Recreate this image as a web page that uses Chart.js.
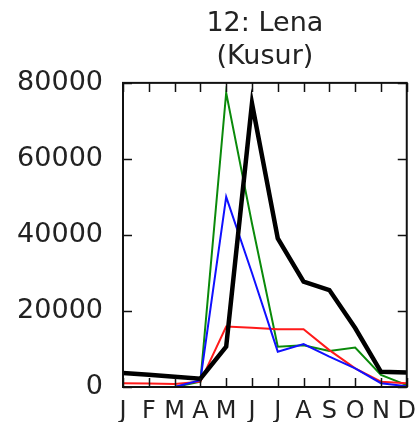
<!DOCTYPE html>
<html>
<head>
<meta charset="utf-8">
<script src="https://cdn.jsdelivr.net/npm/chart.js@4/dist/chart.umd.min.js"></script>
<style>
  html, body { margin: 0; padding: 0; background: #fff; }
  canvas { display: block; }
</style>
</head>
<body>
<canvas id="chart" width="418" height="422"></canvas>
<script>
const months = ["J", "F", "M", "A", "M", "J", "J", "A", "S", "O", "N", "D"];
const yTicks = [0, 20000, 40000, 60000, 80000];

// monthly flow series
const blackSeries = [3700, 3200, 2700, 2200, 10600, 74600, 39100, 27700, 25500, 15500, 4000, 3800];
const blueSeries = [0, 0, 0, 1800, 50000, 30000, 9300, 11300, 8000, 4900, 1000, 200];
const redSeries = [1000, 900, 800, 1400, 15900, 15600, 15200, 15200, 9700, 4900, 1400, 1000];
const greenSeries = [0, 0, 0, 1400, 77400, 43000, 10600, 11000, 9500, 10400, 3200, 500];

const FONT = "'DejaVu Sans', sans-serif";
const TEXT = "#222";

// frame + inward ticks on all four sides, matplotlib style
const frameTicks = {
  id: "frameTicks",
  afterDatasetsDraw(chart) {
    const { ctx, chartArea: a, scales } = chart;
    const len = 9;
    ctx.save();
    ctx.strokeStyle = "#111";
    ctx.lineWidth = 1.5;
    ctx.beginPath();
    months.forEach((m, i) => {
      const x = Math.round(scales.x.getPixelForValue(i)) + 0.5;
      ctx.moveTo(x, a.bottom); ctx.lineTo(x, a.bottom - len);
      ctx.moveTo(x, a.top); ctx.lineTo(x, a.top + len);
    });
    yTicks.forEach(v => {
      const y = Math.round(scales.y.getPixelForValue(v)) + 0.5;
      ctx.moveTo(a.left, y); ctx.lineTo(a.left + len, y);
      ctx.moveTo(a.right, y); ctx.lineTo(a.right - len, y);
    });
    ctx.stroke();
    ctx.lineWidth = 2;
    ctx.strokeRect(a.left, a.top, a.right - a.left, a.bottom - a.top);
    ctx.restore();
  }
};

const line = (data, color, width) => ({
  data,
  borderColor: color,
  borderWidth: width,
  pointRadius: 0,
  tension: 0,
  fill: false,
  borderJoinStyle: "miter"
});

new Chart(document.getElementById("chart"), {
  type: "line",
  data: {
    labels: months,
    datasets: [
      line(blackSeries, "#000000", 4.5),
      line(blueSeries, "#1010ff", 2),
      line(redSeries, "#ff1a1a", 2),
      line(greenSeries, "#0a8a0a", 2)
    ]
  },
  options: {
    responsive: false,
    animation: false,
    layout: { padding: { left: 0, right: 11, top: 0, bottom: 0 } },
    plugins: {
      legend: { display: false },
      tooltip: { enabled: false },
      title: {
        display: true,
        fullSize: false,
        text: ["12: Lena", "(Kusur)"],
        color: TEXT,
        font: { family: FONT, size: 27, weight: "normal", lineHeight: 1.22 },
        padding: { top: 8, bottom: 9 }
      }
    },
    scales: {
      x: {
        grid: { display: false },
        border: { display: false },
        ticks: {
          color: TEXT,
          font: { family: FONT, size: 24 },
          padding: 2,
          maxRotation: 0,
          autoSkip: false
        },
        afterFit: s => { s.height = 35; }
      },
      y: {
        min: 0,
        max: 80000,
        grid: { display: false },
        border: { display: false },
        afterBuildTicks: s => { s.ticks = yTicks.map(v => ({ value: v })); },
        ticks: {
          color: TEXT,
          font: { family: FONT, size: 27 },
          padding: 12,
          callback: v => String(v)
        },
        afterFit: s => { s.width = 123; }
      }
    }
  },
  plugins: [frameTicks]
});
</script>
</body>
</html>
